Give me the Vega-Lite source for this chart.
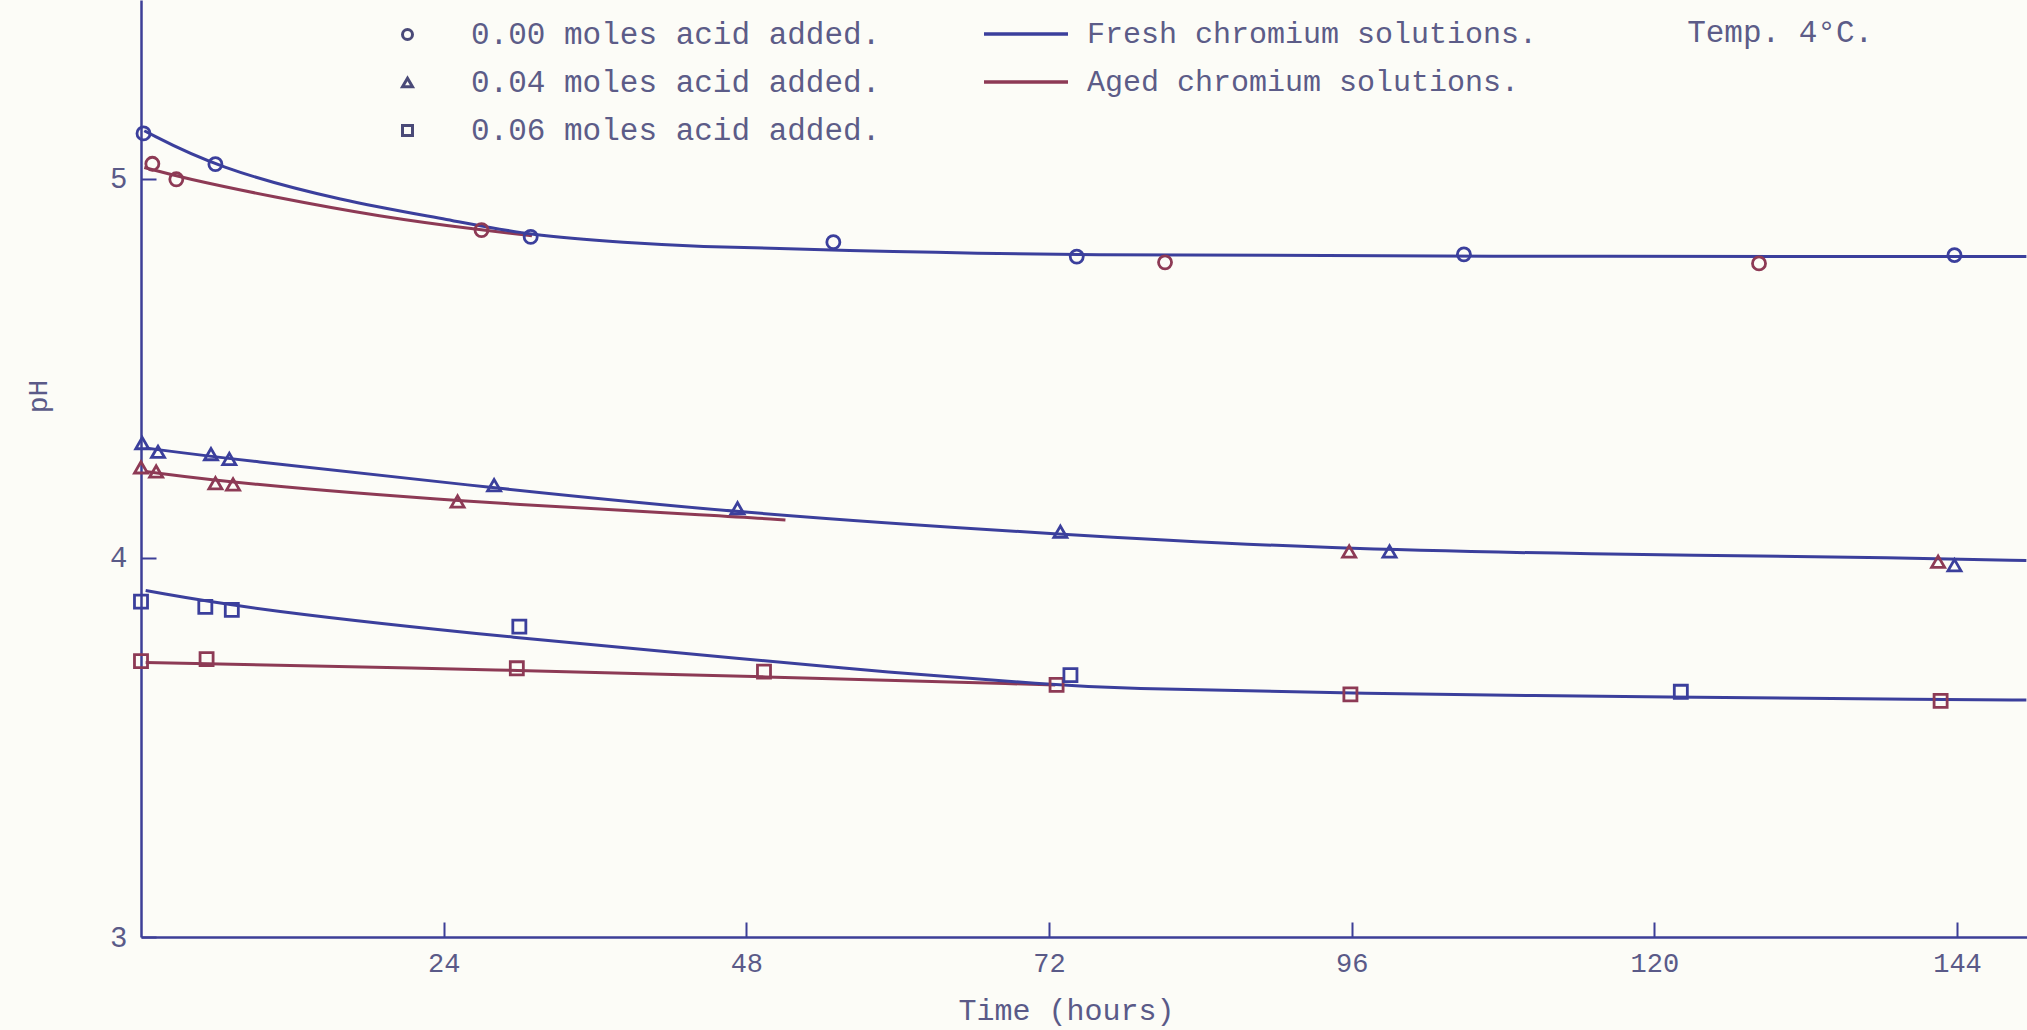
{
  "$schema": "https://vega.github.io/schema/vega-lite/v6.json",
  "width": 1886,
  "height": 937,
  "autosize": {"type": "none"},
  "padding": {"left": 141, "top": 0, "right": 0, "bottom": 93},
  "background": "#fcfcf7",
  "config": {
    "view": {"stroke": null},
    "font": "Liberation Mono",
    "axis": {"grid": false, "domainColor": "#3d3f97", "domainWidth": 2.5, "tickColor": "#3d3f97", "tickWidth": 2, "labelFont": "Liberation Mono", "labelColor": "#5a5a88", "titleFont": "Liberation Mono", "titleColor": "#5a5a88", "titleFontWeight": "normal"}
  },
  "datasets": {
    "curves": [
      {"solution": "Aged chromium solutions.", "id": "A0", "t": 0.26, "pH": 5.03},
      {"solution": "Aged chromium solutions.", "id": "A0", "t": 3.4, "pH": 5.002},
      {"solution": "Aged chromium solutions.", "id": "A0", "t": 10.4, "pH": 4.953},
      {"solution": "Aged chromium solutions.", "id": "A0", "t": 19.0, "pH": 4.9},
      {"solution": "Aged chromium solutions.", "id": "A0", "t": 27.0, "pH": 4.865},
      {"solution": "Aged chromium solutions.", "id": "A0", "t": 31.0, "pH": 4.85},
      {"solution": "Aged chromium solutions.", "id": "A4", "t": 0.37, "pH": 4.228},
      {"solution": "Aged chromium solutions.", "id": "A4", "t": 7.5, "pH": 4.197},
      {"solution": "Aged chromium solutions.", "id": "A4", "t": 24.9, "pH": 4.149},
      {"solution": "Aged chromium solutions.", "id": "A4", "t": 47.4, "pH": 4.109},
      {"solution": "Aged chromium solutions.", "id": "A4", "t": 51.1, "pH": 4.1},
      {"solution": "Aged chromium solutions.", "id": "A6", "t": 0.37, "pH": 3.724},
      {"solution": "Aged chromium solutions.", "id": "A6", "t": 29.9, "pH": 3.704},
      {"solution": "Aged chromium solutions.", "id": "A6", "t": 48.7, "pH": 3.687},
      {"solution": "Aged chromium solutions.", "id": "A6", "t": 72.5, "pH": 3.665},
      {"solution": "Fresh chromium solutions.", "id": "F0", "t": 0.26, "pH": 5.127},
      {"solution": "Fresh chromium solutions.", "id": "F0", "t": 5.9, "pH": 5.03},
      {"solution": "Fresh chromium solutions.", "id": "F0", "t": 16.1, "pH": 4.94},
      {"solution": "Fresh chromium solutions.", "id": "F0", "t": 24.6, "pH": 4.892},
      {"solution": "Fresh chromium solutions.", "id": "F0", "t": 30.8, "pH": 4.85},
      {"solution": "Fresh chromium solutions.", "id": "F0", "t": 38.8, "pH": 4.831},
      {"solution": "Fresh chromium solutions.", "id": "F0", "t": 43.5, "pH": 4.822},
      {"solution": "Fresh chromium solutions.", "id": "F0", "t": 54.9, "pH": 4.812},
      {"solution": "Fresh chromium solutions.", "id": "F0", "t": 74.0, "pH": 4.798},
      {"solution": "Fresh chromium solutions.", "id": "F0", "t": 105.0, "pH": 4.796},
      {"solution": "Fresh chromium solutions.", "id": "F0", "t": 149.5, "pH": 4.795},
      {"solution": "Fresh chromium solutions.", "id": "F4", "t": 0.37, "pH": 4.29},
      {"solution": "Fresh chromium solutions.", "id": "F4", "t": 7.05, "pH": 4.261},
      {"solution": "Fresh chromium solutions.", "id": "F4", "t": 27.9, "pH": 4.185},
      {"solution": "Fresh chromium solutions.", "id": "F4", "t": 47.4, "pH": 4.118},
      {"solution": "Fresh chromium solutions.", "id": "F4", "t": 73.0, "pH": 4.061},
      {"solution": "Fresh chromium solutions.", "id": "F4", "t": 95.1, "pH": 4.023},
      {"solution": "Fresh chromium solutions.", "id": "F4", "t": 113.3, "pH": 4.011},
      {"solution": "Fresh chromium solutions.", "id": "F4", "t": 141.9, "pH": 4.0},
      {"solution": "Fresh chromium solutions.", "id": "F4", "t": 149.5, "pH": 3.993},
      {"solution": "Fresh chromium solutions.", "id": "F6", "t": 0.37, "pH": 3.914},
      {"solution": "Fresh chromium solutions.", "id": "F6", "t": 9.0, "pH": 3.863},
      {"solution": "Fresh chromium solutions.", "id": "F6", "t": 29.9, "pH": 3.788},
      {"solution": "Fresh chromium solutions.", "id": "F6", "t": 48.7, "pH": 3.731},
      {"solution": "Fresh chromium solutions.", "id": "F6", "t": 58.6, "pH": 3.7},
      {"solution": "Fresh chromium solutions.", "id": "F6", "t": 72.5, "pH": 3.665},
      {"solution": "Fresh chromium solutions.", "id": "F6", "t": 76.8, "pH": 3.656},
      {"solution": "Fresh chromium solutions.", "id": "F6", "t": 95.9, "pH": 3.643},
      {"solution": "Fresh chromium solutions.", "id": "F6", "t": 122.1, "pH": 3.632},
      {"solution": "Fresh chromium solutions.", "id": "F6", "t": 142.7, "pH": 3.627},
      {"solution": "Fresh chromium solutions.", "id": "F6", "t": 149.5, "pH": 3.625}
    ],
    "points": [
      {"solution": "Aged chromium solutions.", "acid": "0.00 moles acid added.", "t": 0.9, "pH": 5.04},
      {"solution": "Aged chromium solutions.", "acid": "0.00 moles acid added.", "t": 2.8, "pH": 4.999},
      {"solution": "Aged chromium solutions.", "acid": "0.00 moles acid added.", "t": 27.0, "pH": 4.865},
      {"solution": "Aged chromium solutions.", "acid": "0.00 moles acid added.", "t": 81.2, "pH": 4.78},
      {"solution": "Aged chromium solutions.", "acid": "0.00 moles acid added.", "t": 128.3, "pH": 4.777},
      {"solution": "Aged chromium solutions.", "acid": "0.04 moles acid added.", "t": 0, "pH": 4.239},
      {"solution": "Aged chromium solutions.", "acid": "0.04 moles acid added.", "t": 1.2, "pH": 4.228},
      {"solution": "Aged chromium solutions.", "acid": "0.04 moles acid added.", "t": 5.9, "pH": 4.197},
      {"solution": "Aged chromium solutions.", "acid": "0.04 moles acid added.", "t": 7.3, "pH": 4.194},
      {"solution": "Aged chromium solutions.", "acid": "0.04 moles acid added.", "t": 25.1, "pH": 4.149},
      {"solution": "Aged chromium solutions.", "acid": "0.04 moles acid added.", "t": 95.8, "pH": 4.017},
      {"solution": "Aged chromium solutions.", "acid": "0.04 moles acid added.", "t": 142.5, "pH": 3.99},
      {"solution": "Aged chromium solutions.", "acid": "0.06 moles acid added.", "t": 0, "pH": 3.728},
      {"solution": "Aged chromium solutions.", "acid": "0.06 moles acid added.", "t": 5.2, "pH": 3.733},
      {"solution": "Aged chromium solutions.", "acid": "0.06 moles acid added.", "t": 29.8, "pH": 3.709},
      {"solution": "Aged chromium solutions.", "acid": "0.06 moles acid added.", "t": 49.4, "pH": 3.7},
      {"solution": "Aged chromium solutions.", "acid": "0.06 moles acid added.", "t": 72.6, "pH": 3.665},
      {"solution": "Aged chromium solutions.", "acid": "0.06 moles acid added.", "t": 95.9, "pH": 3.64},
      {"solution": "Aged chromium solutions.", "acid": "0.06 moles acid added.", "t": 142.7, "pH": 3.623},
      {"solution": "Fresh chromium solutions.", "acid": "0.00 moles acid added.", "t": 0.2, "pH": 5.12},
      {"solution": "Fresh chromium solutions.", "acid": "0.00 moles acid added.", "t": 5.9, "pH": 5.039},
      {"solution": "Fresh chromium solutions.", "acid": "0.00 moles acid added.", "t": 30.9, "pH": 4.847},
      {"solution": "Fresh chromium solutions.", "acid": "0.00 moles acid added.", "t": 54.9, "pH": 4.833},
      {"solution": "Fresh chromium solutions.", "acid": "0.00 moles acid added.", "t": 74.2, "pH": 4.795},
      {"solution": "Fresh chromium solutions.", "acid": "0.00 moles acid added.", "t": 104.9, "pH": 4.801},
      {"solution": "Fresh chromium solutions.", "acid": "0.00 moles acid added.", "t": 143.8, "pH": 4.799},
      {"solution": "Fresh chromium solutions.", "acid": "0.04 moles acid added.", "t": 0.1, "pH": 4.303},
      {"solution": "Fresh chromium solutions.", "acid": "0.04 moles acid added.", "t": 1.35, "pH": 4.28},
      {"solution": "Fresh chromium solutions.", "acid": "0.04 moles acid added.", "t": 5.55, "pH": 4.274},
      {"solution": "Fresh chromium solutions.", "acid": "0.04 moles acid added.", "t": 7.0, "pH": 4.261},
      {"solution": "Fresh chromium solutions.", "acid": "0.04 moles acid added.", "t": 28.0, "pH": 4.192},
      {"solution": "Fresh chromium solutions.", "acid": "0.04 moles acid added.", "t": 47.3, "pH": 4.131},
      {"solution": "Fresh chromium solutions.", "acid": "0.04 moles acid added.", "t": 72.9, "pH": 4.069},
      {"solution": "Fresh chromium solutions.", "acid": "0.04 moles acid added.", "t": 99.0, "pH": 4.017},
      {"solution": "Fresh chromium solutions.", "acid": "0.04 moles acid added.", "t": 143.8, "pH": 3.981},
      {"solution": "Fresh chromium solutions.", "acid": "0.06 moles acid added.", "t": 0, "pH": 3.885},
      {"solution": "Fresh chromium solutions.", "acid": "0.06 moles acid added.", "t": 5.1, "pH": 3.871},
      {"solution": "Fresh chromium solutions.", "acid": "0.06 moles acid added.", "t": 7.2, "pH": 3.863},
      {"solution": "Fresh chromium solutions.", "acid": "0.06 moles acid added.", "t": 30.0, "pH": 3.819},
      {"solution": "Fresh chromium solutions.", "acid": "0.06 moles acid added.", "t": 73.7, "pH": 3.691},
      {"solution": "Fresh chromium solutions.", "acid": "0.06 moles acid added.", "t": 122.1, "pH": 3.647}
    ],
    "notes": [
      {"label": "Temp. 4°C.", "t": 122.6, "pH": 5.385}
    ]
  },
  "encoding": {
    "x": {"field": "t", "type": "quantitative", "scale": {"domain": [0, 149.55], "nice": false, "zero": false},
      "axis": {"values": [24, 48, 72, 96, 120, 144], "title": "Time (hours)", "labelFontSize": 27, "labelPadding": 28, "tickSize": -15, "titleFontSize": 30, "titleX": 925, "titleY": 73, "titleBaseline": "middle", "titleAnchor": "middle"}},
    "y": {"field": "pH", "type": "quantitative", "scale": {"domain": [3, 5.472], "nice": false, "zero": false},
      "axis": {"values": [3, 4, 5], "title": "pH", "labelFontSize": 29, "labelPadding": 29, "tickSize": -15, "titleFontSize": 28, "titleX": -103, "titleY": 396, "titleBaseline": "middle", "titleAnchor": "middle"}}
  },
  "layer": [
    {
      "data": {"name": "curves"},
      "transform": [{"filter": "datum.solution == 'Aged chromium solutions.'"}],
      "mark": {"type": "line", "interpolate": "basis", "strokeWidth": 3},
      "encoding": {
        "detail": {"field": "id"},
        "color": {"field": "solution", "type": "nominal",
          "scale": {"domain": ["Fresh chromium solutions.", "Aged chromium solutions."], "range": ["#3b3f9c", "#8d3a55"]},
          "legend": {"orient": "none", "legendX": 869, "legendY": 18, "title": null, "symbolType": "M-3,0H3", "symbolSize": 784, "symbolStrokeWidth": 3.5, "symbolFillColor": "transparent", "labelFont": "Liberation Mono", "labelFontSize": 30, "labelColor": "#5c5c88", "labelOffset": 45, "rowPadding": 17, "labelLimit": 800}}
      }
    },
    {
      "data": {"name": "curves"},
      "transform": [{"filter": "datum.solution == 'Fresh chromium solutions.'"}],
      "mark": {"type": "line", "interpolate": "basis", "strokeWidth": 3},
      "encoding": {
        "detail": {"field": "id"},
        "color": {"field": "solution", "type": "nominal"}
      }
    },
    {
      "data": {"name": "points"},
      "mark": {"type": "point", "filled": false, "strokeWidth": 2.8, "size": 170, "opacity": 1},
      "encoding": {
        "color": {"field": "solution", "type": "nominal"},
        "shape": {"field": "acid", "type": "nominal",
          "scale": {"domain": ["0.00 moles acid added.", "0.04 moles acid added.", "0.06 moles acid added."], "range": ["circle", "triangle-up", "square"]},
          "legend": {"orient": "none", "legendX": 251, "legendY": 19, "title": null, "symbolSize": 100, "symbolStrokeWidth": 3, "symbolStrokeColor": "#4a4a78", "symbolFillColor": "transparent", "labelFont": "Liberation Mono", "labelFontSize": 31, "labelColor": "#5c5c88", "labelOffset": 48, "rowPadding": 16, "labelLimit": 800}}
      }
    },
    {
      "data": {"name": "notes"},
      "mark": {"type": "text", "align": "left", "baseline": "middle", "font": "Liberation Mono", "fontSize": 31, "color": "#5c5c88"},
      "encoding": {"text": {"field": "label"}}
    }
  ]
}
